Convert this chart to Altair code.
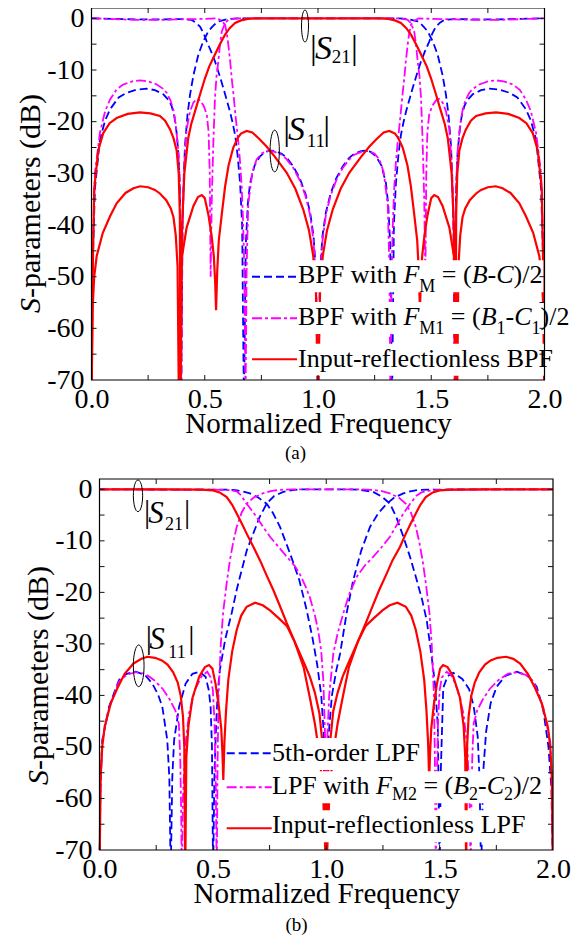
import altair as alt
import pandas as pd

# ----------------------------------------------------------------------------
# Data (x = normalized frequency, y = dB)
# ----------------------------------------------------------------------------
a_blue_s21 = [(0.000,-75),(0.005,-48),(0.015,-33),(0.037,-23.5),(0.060,-19.8),(0.082,-17.6),(0.120,-15.3),(0.155,-14.4),(0.200,-13.8),(0.244,-13.6),(0.280,-13.9),(0.317,-14.7),(0.340,-15.8),(0.354,-17.0),(0.366,-19.0),(0.376,-22.2),(0.385,-27.0),(0.391,-34.0),(0.396,-75),(0.402,-40),(0.407,-31),(0.413,-24.5),(0.424,-18.6),(0.435,-14.8),(0.450,-11.0),(0.472,-7.0),(0.492,-4.6),(0.516,-2.5),(0.540,-1.3),(0.560,-0.6),(0.600,-0.15),(0.650,0.0),(1.350,0.0),(1.400,-0.15),(1.440,-0.6),(1.460,-1.3),(1.484,-2.5),(1.508,-4.6),(1.528,-7.0),(1.550,-11.0),(1.565,-14.8),(1.576,-18.6),(1.587,-24.5),(1.593,-31),(1.598,-40),(1.604,-75),(1.609,-34),(1.615,-27),(1.624,-22.2),(1.634,-19.0),(1.646,-17.0),(1.660,-15.8),(1.683,-14.7),(1.720,-13.9),(1.756,-13.6),(1.800,-13.8),(1.845,-14.4),(1.880,-15.3),(1.918,-17.6),(1.940,-19.8),(1.963,-23.5),(1.985,-33),(1.995,-48),(2.000,-75)]
a_blue_s11 = [(0.000,0.0),(0.100,-0.1),(0.200,-0.2),(0.300,-0.2),(0.400,-0.15),(0.442,-0.3),(0.460,-0.8),(0.479,-1.6),(0.495,-2.9),(0.509,-4.5),(0.527,-6.3),(0.545,-8.3),(0.565,-11.0),(0.582,-13.5),(0.597,-15.8),(0.611,-18.0),(0.623,-20.2),(0.634,-22.6),(0.645,-26.5),(0.656,-31.9),(0.665,-40),(0.673,-75),(0.681,-44),(0.690,-36),(0.700,-31.9),(0.720,-28.5),(0.744,-26.7),(0.770,-25.8),(0.790,-25.6),(0.810,-25.7),(0.840,-26.2),(0.862,-27.0),(0.890,-28.6),(0.920,-31.0),(0.945,-34.0),(0.965,-37.5),(0.980,-42),(0.991,-49),(1.000,-75),(1.009,-49),(1.020,-42),(1.035,-37.5),(1.055,-34.0),(1.080,-31.0),(1.110,-28.6),(1.138,-27.0),(1.160,-26.2),(1.190,-25.7),(1.210,-25.6),(1.230,-25.8),(1.256,-26.7),(1.280,-28.5),(1.300,-31.9),(1.310,-36),(1.319,-44),(1.327,-75),(1.335,-40),(1.344,-31.9),(1.355,-26.5),(1.366,-22.6),(1.377,-20.2),(1.389,-18.0),(1.403,-15.8),(1.418,-13.5),(1.435,-11.0),(1.455,-8.3),(1.473,-6.3),(1.491,-4.5),(1.505,-2.9),(1.521,-1.6),(1.540,-0.8),(1.558,-0.3),(1.600,-0.15),(1.700,-0.2),(1.800,-0.2),(1.900,-0.1),(2.000,0.0)]
a_mag_s21 = [(0.000,-75),(0.005,-45),(0.015,-30),(0.037,-22.2),(0.060,-18.0),(0.082,-15.7),(0.110,-13.8),(0.140,-12.8),(0.180,-12.2),(0.215,-12.0),(0.250,-12.2),(0.288,-12.8),(0.315,-13.6),(0.332,-14.4),(0.348,-15.8),(0.361,-17.6),(0.372,-20.5),(0.383,-25.4),(0.390,-32),(0.396,-75),(0.401,-42),(0.410,-28),(0.420,-21.5),(0.435,-18.0),(0.450,-16.3),(0.465,-15.6),(0.479,-15.9),(0.495,-16.9),(0.509,-18.6),(0.517,-22),(0.522,-30),(0.526,-50),(0.531,-35),(0.538,-24),(0.545,-15.5),(0.552,-11.2),(0.560,-8.3),(0.567,-5.2),(0.575,-2.6),(0.590,-0.9),(0.604,-0.3),(0.630,-0.05),(0.650,0.0),(1.350,0.0),(1.370,-0.05),(1.396,-0.3),(1.410,-0.9),(1.425,-2.6),(1.433,-5.2),(1.440,-8.3),(1.448,-11.2),(1.455,-15.5),(1.462,-24),(1.469,-35),(1.474,-50),(1.478,-30),(1.483,-22),(1.491,-18.6),(1.505,-16.9),(1.521,-15.9),(1.535,-15.6),(1.550,-16.3),(1.565,-18.0),(1.580,-21.5),(1.590,-28),(1.599,-42),(1.604,-75),(1.610,-32),(1.617,-25.4),(1.628,-20.5),(1.639,-17.6),(1.652,-15.8),(1.668,-14.4),(1.685,-13.6),(1.712,-12.8),(1.750,-12.2),(1.785,-12.0),(1.820,-12.2),(1.860,-12.8),(1.890,-13.8),(1.918,-15.7),(1.940,-18.0),(1.963,-22.2),(1.985,-30),(1.995,-45),(2.000,-75)]
a_mag_s11 = [(0.000,0.0),(0.100,-0.15),(0.200,-0.3),(0.300,-0.3),(0.400,-0.2),(0.500,-0.1),(0.556,0.0),(0.575,-0.5),(0.589,-1.2),(0.597,-2.8),(0.604,-5.1),(0.612,-8.2),(0.619,-11.6),(0.627,-14.8),(0.634,-18.0),(0.641,-21.0),(0.648,-23.9),(0.656,-27.8),(0.663,-32.5),(0.669,-39),(0.675,-49),(0.680,-75),(0.685,-48),(0.692,-36),(0.710,-29.8),(0.729,-27.3),(0.750,-26.2),(0.773,-25.7),(0.800,-25.7),(0.840,-26.4),(0.862,-27.3),(0.890,-28.9),(0.920,-31.4),(0.945,-34.4),(0.965,-38),(0.980,-43),(0.991,-50),(1.000,-75),(1.009,-50),(1.020,-43),(1.035,-38),(1.055,-34.4),(1.080,-31.4),(1.110,-28.9),(1.138,-27.3),(1.160,-26.4),(1.200,-25.7),(1.227,-25.7),(1.250,-26.2),(1.271,-27.3),(1.290,-29.8),(1.308,-36),(1.315,-48),(1.320,-75),(1.325,-49),(1.331,-39),(1.337,-32.5),(1.344,-27.8),(1.352,-23.9),(1.359,-21.0),(1.366,-18.0),(1.373,-14.8),(1.381,-11.6),(1.388,-8.2),(1.396,-5.1),(1.403,-2.8),(1.411,-1.2),(1.425,-0.5),(1.444,0.0),(1.500,-0.1),(1.600,-0.2),(1.700,-0.3),(1.800,-0.3),(1.900,-0.15),(2.000,0.0)]
a_red_s21 = [(0.000,-75),(0.005,-50),(0.012,-33),(0.030,-25.5),(0.052,-22.2),(0.080,-20.3),(0.111,-19.3),(0.160,-18.5),(0.214,-18.2),(0.260,-18.4),(0.302,-18.9),(0.325,-19.8),(0.347,-21.5),(0.362,-23.2),(0.376,-25.6),(0.385,-30),(0.390,-38),(0.393,-75),(0.400,-40),(0.410,-30),(0.427,-23.2),(0.440,-20.5),(0.457,-18.0),(0.480,-14.6),(0.501,-11.6),(0.520,-9.3),(0.545,-7.0),(0.567,-5.0),(0.589,-3.2),(0.610,-1.9),(0.634,-0.9),(0.660,-0.4),(0.690,-0.1),(0.720,0.0),(1.280,0.0),(1.310,-0.1),(1.340,-0.4),(1.366,-0.9),(1.390,-1.9),(1.411,-3.2),(1.433,-5.0),(1.455,-7.0),(1.480,-9.3),(1.499,-11.6),(1.520,-14.6),(1.543,-18.0),(1.560,-20.5),(1.573,-23.2),(1.590,-30),(1.600,-40),(1.607,-75),(1.610,-38),(1.615,-30),(1.624,-25.6),(1.638,-23.2),(1.653,-21.5),(1.675,-19.8),(1.698,-18.9),(1.740,-18.4),(1.786,-18.2),(1.840,-18.5),(1.889,-19.3),(1.920,-20.3),(1.948,-22.2),(1.970,-25.5),(1.988,-33),(1.995,-50),(2.000,-75)]
a_red_s11 = [(0.000,-75),(0.005,-56),(0.012,-50),(0.023,-46),(0.050,-41.5),(0.082,-38.3),(0.111,-35.8),(0.150,-33.8),(0.185,-32.9),(0.215,-32.5),(0.250,-32.7),(0.280,-33.2),(0.302,-33.9),(0.330,-35.2),(0.350,-36.8),(0.362,-38.5),(0.372,-42),(0.380,-48),(0.386,-75),(0.392,-52),(0.400,-46),(0.420,-40.5),(0.450,-36.3),(0.470,-34.6),(0.487,-34.2),(0.500,-34.8),(0.516,-38.0),(0.530,-42),(0.540,-46),(0.546,-51),(0.550,-56.5),(0.555,-49),(0.562,-43),(0.575,-38),(0.590,-32.5),(0.605,-28.5),(0.626,-25.0),(0.645,-23.2),(0.660,-22.3),(0.685,-21.8),(0.710,-22.1),(0.740,-23.3),(0.773,-24.8),(0.810,-26.8),(0.862,-29.9),(0.900,-33),(0.935,-37),(0.960,-41),(0.979,-46),(0.991,-53),(1.000,-75),(1.009,-53),(1.021,-46),(1.040,-41),(1.065,-37),(1.100,-33),(1.138,-29.9),(1.190,-26.8),(1.227,-24.8),(1.260,-23.3),(1.290,-22.1),(1.315,-21.8),(1.340,-22.3),(1.355,-23.2),(1.374,-25.0),(1.395,-28.5),(1.410,-32.5),(1.425,-38),(1.438,-43),(1.445,-49),(1.450,-56.5),(1.454,-51),(1.460,-46),(1.470,-42),(1.484,-38.0),(1.500,-34.8),(1.513,-34.2),(1.530,-34.6),(1.550,-36.3),(1.580,-40.5),(1.600,-46),(1.608,-52),(1.614,-75),(1.620,-48),(1.628,-42),(1.638,-38.5),(1.650,-36.8),(1.670,-35.2),(1.698,-33.9),(1.720,-33.2),(1.750,-32.7),(1.785,-32.5),(1.815,-32.9),(1.850,-33.8),(1.889,-35.8),(1.918,-38.3),(1.950,-41.5),(1.977,-46),(1.988,-50),(1.995,-56),(2.000,-75)]

b_blue_s21 = [(0.000,0.0),(0.300,-0.05),(0.550,-0.05),(0.600,-0.15),(0.630,-0.4),(0.664,-0.8),(0.700,-1.6),(0.737,-2.8),(0.765,-4.6),(0.796,-7.3),(0.840,-12.4),(0.881,-17.6),(0.914,-23.5),(0.940,-29),(0.960,-34),(0.978,-40),(0.990,-48),(1.000,-75),(1.010,-48),(1.025,-40),(1.045,-35),(1.061,-31.9),(1.090,-24),(1.119,-17.6),(1.155,-11.8),(1.193,-7.3),(1.230,-4.6),(1.267,-2.8),(1.300,-1.6),(1.340,-0.8),(1.370,-0.4),(1.400,-0.15),(1.450,-0.05),(2.000,0.0)]
b_blue_s11 = [(0.000,-75),(0.004,-58),(0.012,-48.7),(0.042,-42.2),(0.086,-37.0),(0.120,-35.8),(0.160,-35.4),(0.200,-36.0),(0.233,-37.7),(0.258,-39.8),(0.277,-42.2),(0.299,-48.7),(0.308,-56),(0.314,-75),(0.321,-56),(0.329,-48.7),(0.351,-42.2),(0.380,-37.7),(0.410,-35.8),(0.440,-35.4),(0.468,-36.4),(0.482,-39),(0.490,-42.2),(0.496,-50),(0.501,-75),(0.507,-55),(0.515,-45),(0.522,-39),(0.531,-35),(0.555,-29),(0.583,-24),(0.605,-19.5),(0.627,-15.7),(0.650,-11.8),(0.678,-8.6),(0.705,-5.5),(0.737,-2.8),(0.770,-1.3),(0.810,-0.5),(0.860,-0.1),(0.900,0.0),(1.100,0.0),(1.150,-0.1),(1.207,-0.5),(1.245,-1.4),(1.281,-2.8),(1.310,-5.5),(1.340,-9.2),(1.370,-13.2),(1.399,-17.6),(1.423,-21.5),(1.443,-25.4),(1.465,-32.5),(1.480,-38),(1.492,-46),(1.500,-75),(1.505,-55),(1.516,-38.5),(1.535,-36.3),(1.560,-35.6),(1.600,-36.8),(1.630,-38.8),(1.650,-42),(1.668,-48),(1.676,-56),(1.683,-75),(1.692,-55),(1.705,-47),(1.725,-41.5),(1.752,-38.3),(1.790,-36.2),(1.840,-35.4),(1.890,-36.2),(1.928,-38.3),(1.957,-42.8),(1.980,-50),(1.993,-58),(2.000,-75)]
b_mag_s21 = [(0.000,0.0),(0.300,-0.05),(0.500,-0.05),(0.550,-0.1),(0.580,-0.2),(0.605,-0.4),(0.625,-1.2),(0.649,-2.8),(0.670,-4.0),(0.693,-5.4),(0.720,-7.2),(0.752,-9.2),(0.790,-11.2),(0.826,-13.1),(0.860,-14.8),(0.884,-16.5),(0.910,-19.0),(0.928,-21.0),(0.950,-24.5),(0.965,-27.5),(0.978,-31.5),(0.987,-37),(0.995,-48),(1.000,-75),(1.005,-48),(1.013,-40),(1.031,-31.9),(1.050,-28),(1.075,-24.1),(1.100,-20.5),(1.134,-17.0),(1.170,-14.8),(1.207,-13.1),(1.245,-11.2),(1.281,-9.2),(1.310,-7.0),(1.340,-4.7),(1.370,-2.8),(1.399,-1.2),(1.420,-0.6),(1.450,-0.3),(1.500,-0.1),(1.600,-0.05),(2.000,0.0)]
b_mag_s11 = [(0.000,-75),(0.004,-58),(0.012,-49),(0.042,-42.5),(0.086,-37.3),(0.120,-36.0),(0.160,-35.5),(0.200,-35.8),(0.240,-37.0),(0.280,-38.8),(0.310,-40.8),(0.335,-43),(0.350,-45.5),(0.356,-52),(0.360,-62),(0.363,-75),(0.368,-60),(0.378,-50),(0.395,-43.5),(0.420,-39),(0.450,-36.3),(0.475,-35.4),(0.490,-36.5),(0.500,-39),(0.507,-45),(0.513,-58),(0.517,-75),(0.521,-52),(0.525,-40),(0.535,-30),(0.545,-24),(0.560,-18.5),(0.575,-13.8),(0.590,-10.2),(0.605,-7.3),(0.627,-4.5),(0.649,-2.8),(0.680,-1.6),(0.720,-0.8),(0.760,-0.3),(0.800,-0.1),(0.850,0.0),(1.150,0.0),(1.200,-0.1),(1.240,-0.3),(1.280,-0.8),(1.320,-1.6),(1.351,-2.8),(1.373,-4.5),(1.395,-7.3),(1.410,-10.2),(1.425,-13.8),(1.440,-18.5),(1.455,-24),(1.465,-30),(1.475,-40),(1.479,-52),(1.483,-75),(1.487,-58),(1.493,-45),(1.500,-39),(1.510,-36.5),(1.531,-35.4),(1.555,-36.3),(1.580,-39),(1.605,-43.5),(1.622,-50),(1.632,-60),(1.637,-75),(1.640,-62),(1.644,-52),(1.650,-45.5),(1.665,-43),(1.690,-40.8),(1.720,-38.8),(1.760,-37.0),(1.800,-35.8),(1.840,-35.5),(1.880,-36.0),(1.914,-37.3),(1.958,-42.5),(1.988,-49),(1.996,-58),(2.000,-75)]
b_red_s21 = [(0.000,0.0),(0.300,0.0),(0.450,-0.05),(0.500,-0.2),(0.530,-0.6),(0.561,-1.5),(0.585,-3.0),(0.605,-4.7),(0.627,-6.6),(0.649,-8.6),(0.680,-11.3),(0.708,-13.8),(0.737,-16.7),(0.767,-19.6),(0.797,-22.8),(0.826,-26.0),(0.855,-29.0),(0.884,-31.9),(0.905,-34.0),(0.928,-36.4),(0.950,-39.5),(0.970,-43.5),(0.985,-50),(0.995,-58),(1.000,-75),(1.005,-58),(1.015,-50),(1.031,-43),(1.050,-39.5),(1.072,-36.4),(1.095,-34.0),(1.116,-31.9),(1.145,-29.0),(1.174,-26.0),(1.203,-22.8),(1.233,-19.6),(1.263,-16.7),(1.292,-13.8),(1.325,-11.2),(1.351,-8.6),(1.373,-6.6),(1.395,-4.7),(1.415,-3.0),(1.439,-1.5),(1.470,-0.6),(1.500,-0.2),(1.550,-0.05),(1.700,0.0),(2.000,0.0)]
b_red_s11 = [(0.000,-75),(0.005,-56),(0.012,-50),(0.023,-46),(0.050,-41.5),(0.082,-38.3),(0.111,-35.8),(0.150,-33.8),(0.185,-32.9),(0.211,-32.5),(0.245,-32.7),(0.275,-33.2),(0.300,-34.0),(0.325,-35.5),(0.345,-37.5),(0.358,-40),(0.368,-44),(0.374,-50),(0.378,-75),(0.383,-52),(0.392,-46),(0.410,-40.5),(0.440,-36.3),(0.465,-34.5),(0.483,-34.1),(0.498,-34.8),(0.512,-37.8),(0.526,-42),(0.537,-46.5),(0.542,-51),(0.546,-56.4),(0.551,-49),(0.558,-43),(0.568,-37),(0.585,-31.5),(0.605,-27.3),(0.625,-24.5),(0.649,-22.8),(0.686,-22.0),(0.720,-22.5),(0.752,-23.5),(0.790,-25.0),(0.826,-26.5),(0.860,-29.5),(0.900,-34.5),(0.928,-40.5),(0.950,-45.5),(0.970,-51.5),(0.986,-59),(1.000,-75),(1.014,-59),(1.030,-51.5),(1.050,-45.5),(1.072,-40.5),(1.100,-34.5),(1.140,-29.5),(1.174,-26.5),(1.210,-25.0),(1.248,-23.5),(1.280,-22.5),(1.314,-22.0),(1.351,-22.8),(1.375,-24.5),(1.395,-27.3),(1.415,-31.5),(1.432,-37),(1.442,-43),(1.449,-49),(1.454,-56.4),(1.458,-51),(1.463,-46.5),(1.474,-42),(1.488,-37.8),(1.502,-34.8),(1.515,-34.1),(1.535,-34.5),(1.560,-36.3),(1.590,-40.5),(1.606,-46),(1.613,-52),(1.617,-75),(1.621,-50),(1.628,-44),(1.640,-40),(1.655,-37.5),(1.675,-35.5),(1.700,-34.0),(1.725,-33.2),(1.755,-32.7),(1.793,-32.5),(1.825,-32.9),(1.855,-33.8),(1.889,-35.8),(1.918,-38.3),(1.950,-41.5),(1.977,-46),(1.988,-50),(1.995,-56),(2.000,-75)]

x_tick_labels = [0, 0.5, 1.0, 1.5, 2.0]
y_tick_labels = [-70, -60, -50, -40, -30, -20, -10, 0]
x_minor = [0.25, 0.5, 0.75, 1.0, 1.25, 1.5, 1.75]
y_minor = [-65, -60, -55, -50, -45, -40, -35, -30, -25, -20, -15, -10, -5, 0]

A_LEG1 = [("BPF with ", "n"), ("F", "i"), ("M", "s"), (" = (", "n"), ("B", "i"), ("-", "n"), ("C", "i"), (")/2", "n")]
A_LEG2 = [("BPF with ", "n"), ("F", "i"), ("M1", "s"), (" = (", "n"), ("B", "i"), ("1", "s"), ("-", "n"), ("C", "i"), ("1", "s"), (")/2", "n")]
A_LEG3 = [("Input-reflectionless BPF", "n")]
B_LEG1 = [("5th-order LPF", "n")]
B_LEG2 = [("LPF with ", "n"), ("F", "i"), ("M2", "s"), (" = (", "n"), ("B", "i"), ("2", "s"), ("-", "n"), ("C", "i"), ("2", "s"), (")/2", "n")]
B_LEG3 = [("Input-reflectionless LPF", "n")]

# ----------------------------------------------------------------------------
BLUE, MAG, RED = "#0000ff", "#ff00ff", "#ff0000"
FONT = "Liberation Serif"
DASH_B = [8, 4]
DASH_M = [10, 3, 3, 3]

RG = {' ': 250, '(': 333, ')': 333, '-': 333, '/': 278, '=': 564, '|': 200,
      '0': 500, '1': 500, '2': 500, '3': 500, '4': 500, '5': 500, '6': 500, '7': 500, '8': 500, '9': 500,
      'A': 722, 'B': 667, 'C': 667, 'D': 722, 'F': 556, 'I': 333, 'L': 611, 'M': 889, 'P': 556, 'S': 556,
      'a': 444, 'b': 500, 'c': 444, 'd': 500, 'e': 444, 'f': 333, 'h': 500, 'i': 278, 'l': 278, 'm': 778,
      'n': 500, 'o': 500, 'p': 500, 'q': 500, 'r': 333, 's': 389, 't': 278, 'u': 500, 'w': 722, 'y': 500, 'z': 444}
IT = {'F': 611, 'B': 611, 'C': 667, 'S': 500}


def tw(s, size, italic=False):
    tbl = IT if italic else RG
    return sum(tbl.get(c, RG.get(c, 500)) for c in s) * size / 1000.0


def build(P):
    left, top, w, h, xoff = P["left"], P["top"], P["w"], P["h"], P["xoff"]

    def dx(px):
        return (px - left) / w * 2.0

    def dy(py):
        return 2.0 - (py - top) / h * 72.0

    xs = alt.Scale(domain=[0, 2], range=[xoff, xoff + w], nice=False, zero=False)
    ys = alt.Scale(domain=[-70, 2], nice=False, zero=False)
    xaxis = alt.Axis(values=x_tick_labels, format=".1f", title="Normalized Frequency",
                     ticks=False, tickSize=0, domain=False, grid=False,
                     labelFont=FONT, labelFontSize=28, labelColor="black", labelPadding=27,
                     labelBaseline="alphabetic", labelFlush=False, labelOverlap=False,
                     titleFont=FONT, titleFontSize=29, titleFontWeight="normal", titleColor="black",
                     titleBaseline="alphabetic", titleY=52)
    yaxis = alt.Axis(values=y_tick_labels, title=None,
                     labelExpr="datum.value < 0 ? '-' + (-datum.value) : '' + datum.value",
                     ticks=False, tickSize=0, domain=False, grid=False,
                     labelFont=FONT, labelFontSize=28, labelColor="black", labelPadding=7.5,
                     labelFlush=False, labelOverlap=False, offset=-xoff)

    def X(f):
        return alt.X(f, type="quantitative", scale=xs, axis=xaxis)

    def Y(f):
        return alt.Y(f, type="quantitative", scale=ys, axis=yaxis)

    one = pd.DataFrame({"k": [0]})
    layers = []

    # curves
    rows = []
    for series, name, pts in P["curves"]:
        for x, y in pts:
            rows.append({"series": series, "curve": series + name, "x": x, "y": y})
    df = pd.DataFrame(rows)
    for series, color, dash, sw in [("blue", BLUE, DASH_B, 1.8), ("mag", MAG, DASH_M, 1.8), ("red", RED, None, 2.2)]:
        kw = dict(color=color, strokeWidth=sw, clip=True)
        if dash:
            kw["strokeDash"] = dash
        layers.append(alt.Chart(df[df.series == series]).mark_line(**kw).encode(
            x=X("x"), y=Y("y"), detail="curve:N"))

    # legend: white boxes, text segments, line samples
    L = P["legend"]
    boxes, lines, segs = [], [], []
    for color, dash, yline, base, parts in L["rows"]:
        cur = L["text_x"]
        for text, st in parts:
            size = L["sub"] if st == "s" else L["size"]
            italic = st == "i"
            lead = len(text) - len(text.lstrip(" "))
            if text.strip():
                yy = base + (L["sub_dy"] if st == "s" else 0)
                segs.append((text.strip(), cur + tw(" " * lead, size), yy, size,
                             "italic" if italic else "normal", "left", 0))
            cur += tw(text, size, italic)
        boxes.append({"x": dx(L["text_x"] - 1), "x2": dx(cur + 1), "y": dy(base - 23), "y2": dy(base + 9)})
        lines.append((color, dash, {"x": dx(L["line_x"][0]), "x2": dx(L["line_x"][1]), "y": dy(yline)}))
    layers.append(alt.Chart(pd.DataFrame(boxes)).mark_rect(color="white", opacity=1).encode(
        x=X("x"), x2=alt.X2("x2"), y=Y("y"), y2=alt.Y2("y2")))

    # frame and inward ticks
    layers.append(alt.Chart(one).mark_rect(fillOpacity=0, stroke="black", strokeWidth=1.2).encode(
        x=alt.value(xoff), x2=alt.value(xoff + w), y=alt.value(0), y2=alt.value(h)))
    xt = pd.DataFrame({"x": x_minor})
    yt = pd.DataFrame({"y": y_minor})
    tk = dict(color="#111", strokeWidth=1)
    layers.append(alt.Chart(xt).mark_rule(**tk).encode(x=X("x"), y=alt.value(h), y2=alt.value(h - 5)))
    layers.append(alt.Chart(xt).mark_rule(**tk).encode(x=X("x"), y=alt.value(0), y2=alt.value(5)))
    layers.append(alt.Chart(yt).mark_rule(**tk).encode(y=Y("y"), x=alt.value(xoff), x2=alt.value(xoff + 5)))
    layers.append(alt.Chart(yt).mark_rule(**tk).encode(y=Y("y"), x=alt.value(xoff + w), x2=alt.value(xoff + w - 5)))

    for color, dash, d in lines:
        kw = dict(color=color, strokeWidth=2)
        if dash:
            kw["strokeDash"] = dash
        layers.append(alt.Chart(pd.DataFrame([d])).mark_rule(**kw).encode(x=X("x"), x2=alt.X2("x2"), y=Y("y")))

    # all text pieces grouped by style
    allt = segs + P["labels"]
    groups = {}
    for t, px, py, size, style, align, angle in allt:
        groups.setdefault((size, style, align, angle), []).append({"x": dx(px), "y": dy(py), "t": t})
    for (size, style, align, angle), rr in groups.items():
        kw = dict(font=FONT, fontSize=size, fontStyle=style, align=align, baseline="alphabetic", color="black")
        if angle:
            kw["angle"] = angle
        layers.append(alt.Chart(pd.DataFrame(rr)).mark_text(**kw).encode(x=X("x"), y=Y("y"), text="t:N"))

    # ellipses around curves
    for cx, cy, ew, eh in P["ellipses"]:
        r = ew / eh
        path = "M0,-1A%.3f,1 0 1,1 0,1A%.3f,1 0 1,1 0,-1Z" % (r, r)
        layers.append(alt.Chart(pd.DataFrame([{"x": dx(cx), "y": dy(cy)}])).mark_point(
            shape=path, size=eh * eh, filled=False, color="black", strokeWidth=1, opacity=1).encode(
            x=X("x"), y=Y("y")))

    if "hidden_x" in P:
        layers.append(alt.Chart(one).mark_rect(opacity=0).encode(
            x=alt.value(P["hidden_x"]), x2=alt.value(P["hidden_x"] + 0.5), y=alt.value(100), y2=alt.value(101)))

    return alt.layer(*layers).properties(width=xoff + w, height=h)


PA = dict(left=91.5, top=8, w=453, h=372, xoff=0, hidden_x=-83.0,
          curves=[("blue", "s21", a_blue_s21), ("blue", "s11", a_blue_s11), ("mag", "s21", a_mag_s21),
                  ("mag", "s11", a_mag_s11), ("red", "s21", a_red_s21), ("red", "s11", a_red_s11)],
          legend=dict(line_x=(252, 297), text_x=298, size=26, sub=18, sub_dy=9,
                      rows=[(BLUE, DASH_B, 276.7, 283.3, A_LEG1), (MAG, DASH_M, 318.3, 325.0, A_LEG2),
                            (RED, None, 359.3, 366.7, A_LEG3)]),
          labels=[("|", 310, 59, 34, "normal", "left", 0), ("S", 315, 59, 34, "italic", "left", 0),
                  ("21", 331.7, 62.7, 19, "normal", "left", 0), ("|", 351, 59, 34, "normal", "left", 0),
                  ("|", 283.3, 140, 34, "normal", "left", 0), ("S", 288, 140, 34, "italic", "left", 0),
                  ("11", 306.7, 146.7, 19, "normal", "left", 0), ("|", 323.3, 140, 34, "normal", "left", 0),
                  ("S", 39.5, 313, 30, "italic", "left", 270), ("-parameters (dB)", 39.5, 298, 30, "normal", "left", 270),
                  ("(a)", 295.5, 459, 19, "normal", "center", 0)],
          ellipses=[(305, 26, 7, 32), (274.7, 151, 9.3, 41.7)])

PB = dict(left=99.5, top=479, w=453.5, h=371, xoff=8,
          curves=[("blue", "s21", b_blue_s21), ("blue", "s11", b_blue_s11), ("mag", "s21", b_mag_s21),
                  ("mag", "s11", b_mag_s11), ("red", "s21", b_red_s21), ("red", "s11", b_red_s11)],
          legend=dict(line_x=(226.7, 271.7), text_x=272, size=26, sub=18, sub_dy=6,
                      rows=[(BLUE, DASH_B, 753.3, 761.0, B_LEG1), (MAG, DASH_M, 787.3, 794.3, B_LEG2),
                            (RED, None, 828.3, 833.3, B_LEG3)]),
          labels=[("|", 144, 522, 31, "normal", "left", 0), ("S", 148.3, 523, 31, "italic", "left", 0),
                  ("21", 165, 529.5, 18, "normal", "left", 0), ("|", 184, 522, 31, "normal", "left", 0),
                  ("|", 145.7, 648, 31, "normal", "left", 0), ("S", 149.3, 649, 31, "italic", "left", 0),
                  ("11", 168.3, 657.5, 18, "normal", "left", 0), ("|", 188.3, 648, 31, "normal", "left", 0),
                  ("S", 47.5, 785, 30, "italic", "left", 270), ("-parameters (dB)", 47.5, 770, 30, "normal", "left", 270),
                  ("(b)", 296.5, 931, 19, "normal", "center", 0)],
          ellipses=[(138, 495.8, 9.3, 31.7), (138.7, 665.8, 10.7, 41.7)])

chart = alt.vconcat(build(PA), build(PB), spacing=99, bounds="flush").properties(
    padding={"left": 0.5, "top": -4, "right": 2, "bottom": 2},
    background="white",
).configure_view(strokeOpacity=0)

chart.save("out.html", embed_options={"renderer": "svg", "actions": False})
